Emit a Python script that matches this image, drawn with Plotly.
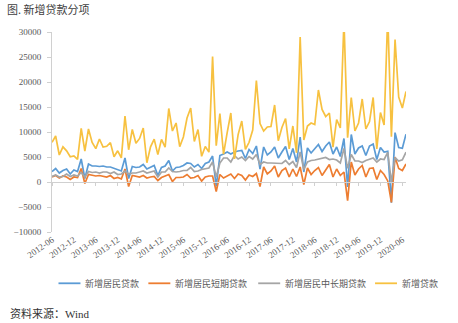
import pandas as pd
import plotly.graph_objects as go

# ---------------- data (100 million yuan) ----------------
months = list(pd.date_range("2012-05-01", "2020-06-01", freq="MS").strftime("%Y-%m"))

tick_labels = ["2012-06", "2012-12", "2013-06", "2013-12", "2014-06", "2014-12",
               "2015-06", "2015-12", "2016-06", "2016-12", "2017-06", "2017-12",
               "2018-06", "2018-12", "2019-06", "2019-12", "2020-06"]

household = [
    2100, 2700, 1800, 2300, 2600, 1600, 2400, 2100,
    4600, 700, 3600, 3200, 3200, 3100, 3200, 3000, 3000, 2700, 2400, 2200,
    4800, 700, 3100, 2900, 3000, 3500, 2600, 3000, 3300, 1300, 2900, 3200,
    4300, 2200, 2900, 3000, 3300, 3800, 3700, 3000, 3500, 2700, 3700, 4000,
    5200, -900, 5300, 5600, 6000, 5600, 6000, 6200, 6300, 4700, 6500, 5700,
    7200, 2600, 7000, 5400, 6000, 7000, 4800, 6000, 7100, 4500, 6700, 4000,
    9000, 2000, 6800, 5800, 6700, 7500, 6100, 7200, 8000, 5600, 7000, 5100,
    8700, -1000, 9500, 5600, 6800, 7200, 5300, 7200, 7600, 4500, 6900, 6000,
    6131, -4133, 9871, 6887, 6743, 9565,
]

household_short = [
    1000, 1300, 800, 1200, 1000, 500, 1000, 900,
    2700, -300, 1500, 1300, 1200, 1300, 1200, 1000, 1300, 700, 900, 600,
    2600, -900, 1300, 1100, 1000, 1300, 800, 1000, 1100, 300, 900, 1200,
    1500, 100, 900, 900, 1000, 1500, 800, 900, 1300, 200, 1000, 1200,
    1200, -1900, 1500, 800, 1200, 1600, 700, 1600, 1300, 400, 1400, 1100,
    1700, -900, 3000, 1600, 2200, 3200, 1000, 2300, 2800, 1000, 2600, 1100,
    3000, -500, 2800, 1500, 2300, 2900, 1300, 2300, 3500, 1000, 2600, 1300,
    2000, -3740, 4000, 1400, 2600, 3300, 1000, 2700, 2800, 500, 2300, 1500,
    210, -4093, 4986, 2713, 2300, 3600,
]

household_long = [
    1100, 1400, 1000, 1100, 1600, 1100, 1400, 1200,
    1900, 1000, 2100, 1900, 2000, 1800, 2000, 2000, 1700, 2000, 1500, 1600,
    2200, 1600, 1800, 1800, 2000, 2200, 1800, 2000, 2200, 1000, 2000, 2000,
    2800, 2100, 2000, 2100, 2300, 2300, 2900, 2100, 2200, 2500, 2700, 2800,
    4000, 1000, 3800, 4800, 4800, 4000, 5300, 4600, 5000, 4300, 5100, 4600,
    5500, 3500, 4000, 3800, 3800, 3800, 3800, 3700, 4300, 3500, 4100, 2900,
    6000, 2500, 4000, 4300, 4400, 4600, 4800, 4900, 4500, 4600, 4400, 3800,
    6700, 2730, 5500, 4200, 4200, 3900, 4300, 4500, 4800, 4000, 4600, 4500,
    5922, -40, 4885, 4174, 4443, 5965,
]

new_loans = [
    7932, 9198, 5401, 7039, 6232, 5052, 5229, 4543,
    10721, 6200, 10600, 7929, 6674, 8605, 6999, 7134, 7870, 5061, 6246, 4825,
    13200, 6445, 10500, 7747, 8708, 10800, 3852, 7025, 8572, 5483, 8527, 6973,
    14700, 10200, 11800, 7079, 9008, 12800, 14800, 8096, 10500, 5136, 7089, 5978,
    25100, 7266, 13700, 5556, 9855, 13800, 4636, 9487, 12200, 6513, 7946, 10400,
    20300, 11700, 10200, 11000, 11100, 15400, 8255, 10900, 12700, 6632, 11200, 5844,
    29000, 8393, 11200, 11800, 11500, 18400, 14500, 13100, 13800, 6970, 12500, 10800,
    32300, 8858, 16900, 10200, 11800, 16600, 10600, 12100, 16900, 6613, 13900, 11400,
    33400, 9057, 28500, 17000, 14800, 18100,
]

series_names = ["新增居民贷款", "新增居民短期贷款", "新增居民中长期贷款", "新增贷款"]
series_values = [household, household_short, household_long, new_loans]
series_colors = ["#5b9bd5", "#ed7d31", "#a5a5a5", "#f7c140"]

# ---------------- figure ----------------
CJK = "Noto Sans CJK SC"
SERIF = "Liberation Serif"

L, R, T, B, W, H = 51.5, 52, 31.7, 91.3, 458, 323
PW, PH = W - L - R, H - T - B


def px_x(x):
    return (x - L) / PW


def px_y(y):
    return (H - B - y) / PH


fig = go.Figure()
for name, vals, color in zip(series_names, series_values, series_colors):
    fig.add_trace(go.Scatter(x=months, y=vals, name=name, mode="lines",
                             line=dict(color=color, width=1.7)))

# helper trace for the category axis drawn through zero
fig.add_trace(go.Scatter(x=[], y=[], xaxis="x2", showlegend=False, hoverinfo="skip"))

# legend drawn below the plot (short line keys like the original)
legend_line_x = [58, 148, 258, 375]
legend_y = 283
shapes, annotations = [], []
for name, color, lx in zip(series_names, series_colors, legend_line_x):
    shapes.append(dict(type="line", xref="paper", yref="paper",
                       x0=px_x(lx), x1=px_x(lx + 22), y0=px_y(legend_y), y1=px_y(legend_y),
                       line=dict(color=color, width=1.8)))
    annotations.append(dict(text=name, xref="paper", yref="paper",
                            x=px_x(lx + 25), y=px_y(legend_y),
                            xanchor="left", yanchor="middle", showarrow=False,
                            font=dict(family=CJK, size=9, color="#595959")))

annotations.append(dict(text="资料来源：Wind", xref="paper", yref="paper",
                        x=px_x(7), y=px_y(313), xanchor="left", yanchor="middle",
                        showarrow=False,
                        font=dict(family=SERIF + ", " + CJK, size=11, color="#333333")))

tickvals = months[0::6]

fig.update_layout(
    width=W, height=H,
    margin=dict(l=L, r=R, t=T, b=B),
    paper_bgcolor="white", plot_bgcolor="white",
    showlegend=False,
    title=dict(text="图. 新增贷款分项", x=7 / W, y=1 - 10 / H,
               xanchor="left", yanchor="middle",
               font=dict(family=CJK, size=11, color="#404040")),
    xaxis=dict(type="category", range=[0, len(months) - 1],
               tickmode="array", tickvals=tickvals, ticktext=tick_labels,
               tickangle=-35, showline=False, showgrid=False, zeroline=False,
               ticks="", tickfont=dict(family=SERIF, size=9, color="#595959")),
    xaxis2=dict(type="linear", overlaying="x", anchor="free", position=0.25,
                range=[0, len(months) - 1], tickmode="array",
                tickvals=list(range(0, len(months), 6)), showticklabels=False,
                showline=True, linecolor="#d0d0d0", linewidth=1,
                ticks="outside", ticklen=3, tickcolor="#d0d0d0",
                showgrid=False, zeroline=False),
    yaxis=dict(range=[-10000, 30000], domain=[0, 1], tickmode="array",
               tickvals=list(range(-10000, 30001, 5000)), tickformat="d",
               showgrid=False, zeroline=False, showline=True,
               linecolor="#d0d0d0", linewidth=1, ticks="outside", ticklen=4,
               tickcolor="#d0d0d0", ticklabelstandoff=4,
               tickfont=dict(family=SERIF, size=9, color="#595959")),
    shapes=shapes,
    annotations=annotations,
)

fig.write_html("out.html")
